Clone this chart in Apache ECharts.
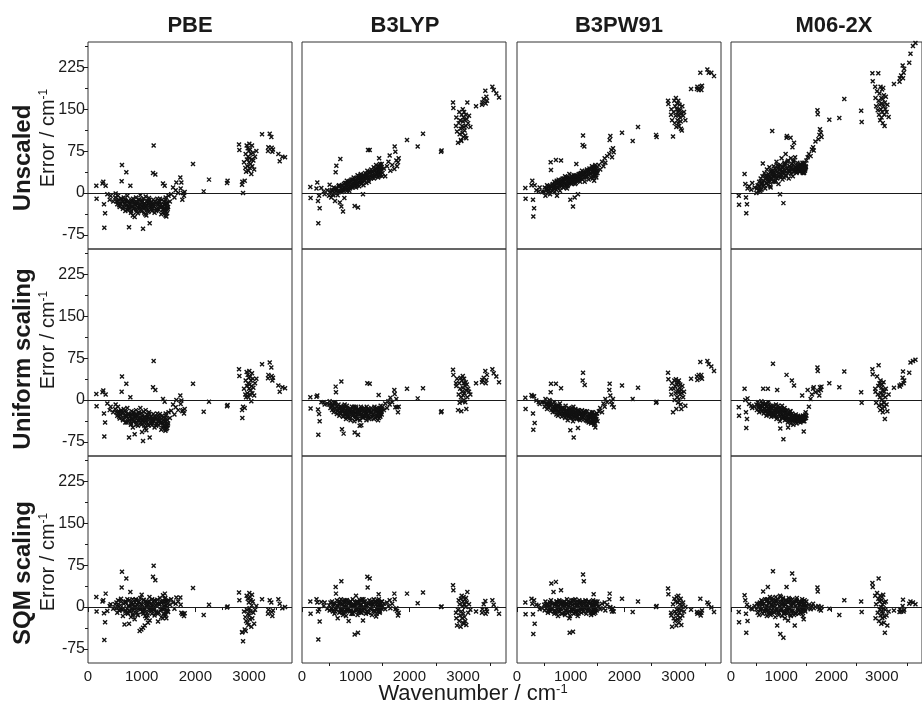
<!DOCTYPE html>
<html>
<head>
<meta charset="utf-8">
<script src="https://cdn.jsdelivr.net/npm/echarts@6/dist/echarts.min.js"></script>
<style>
html, body { margin: 0; padding: 0; background: #fff; }
#main { width: 922px; height: 706px; }
</style>
</head>
<body>
<div id="main"></div>
<script>
// experimental wavenumbers (cm-1), same for every panel
var wavenumbers = [
  155, 160, 270, 285, 298, 304, 318, 329, 360, 404, 422, 470,
  505, 515, 530, 545, 560, 575, 590, 605, 615, 627,
  633, 640, 650, 665, 680, 695, 705, 714, 725, 733,
  745, 755, 764, 775, 789, 800, 810, 820, 835, 850,
  869, 880, 895, 905, 919, 930, 945, 962, 975, 981,
  994, 1006, 1015, 1025, 1035, 1043, 1056, 1065, 1074, 1087,
  1095, 1105, 1118, 1130, 1136, 1149, 1160, 1175, 1190, 1200,
  1211, 1217, 1223, 1230, 1240, 1254, 1261, 1275, 1290, 1304,
  1320, 1335, 1350, 1365, 1380, 1397, 1405, 1416, 1428, 1437,
  1447, 1459, 1470, 1485, 1500, 1525, 1550, 1584, 1610, 1633,
  1646, 1680, 1720, 1726, 1739, 1757, 1770, 1788, 1801,
  612, 690, 740, 795, 845, 890, 940, 985, 1000, 1030,
  1050, 1080, 1112, 1145, 1185, 1205, 1245, 1268, 1310, 1340,
  1372, 1390, 1410, 1422, 1432, 1442, 1453, 1465, 1478, 1492,
  1956, 2155, 2254, 2590, 2600, 2813, 2820, 2869,
  2875, 2888, 2906, 2919, 2930, 2937, 2945, 2955, 2960, 2968,
  2975, 2982, 2990, 2995, 3000, 3005, 3010, 3015, 3020, 3028,
  3035, 3042, 3050, 3055, 3061, 3070, 3080, 3095, 3111, 3136,
  3242, 3353, 3360, 3385, 3415, 3422, 3434, 3446, 3546, 3571, 3620, 3670,
  550, 580, 620, 660, 700, 720, 750, 770, 780, 805,
  815, 830, 840, 860, 875, 900, 915, 925, 950, 968,
  990, 1010, 1040, 1060, 1090, 1100, 1125, 1155, 1170, 1195,
  1235, 1280, 1300, 1330, 1360, 1400, 1425, 1440, 1450, 1475
];

// errors (cm-1), one array per panel, in the order of wavenumbers
var pbeUnscaled = [
  13, -10, 17, 20, -20, -62, -36, 13, -2, -12, -5, -15,
  -8, -1, -14, -20, -5, -12, -25, -18, -10, 21,
  50, -15, -28, -8, -20, -32, -14, 37, -22, -5,
  -30, -18, -61, -26, 13, -35, -12, -24, -40, -16,
  -43, -22, -8, -30, -19, -36, -12, -27, -4, -20,
  -33, -15, -25, -64, -10, -28, -18, -38, -6, -40,
  -22, -14, -30, -20, -9, -54, -26, -16, -32, -20,
  36, -12, 85, -24, -35, 33, -18, -28, -10, -22,
  -30, -15, -25, -38, -12, 17, -30, -20, 13, -35,
  -8, -42, -18, -28, -5, -15, -2, 10, -8, 5,
  19, 0, 28, 8, 19, -12, 0, -5, 2,
  -20, -12, -25, -18, -28, -15, -22, -30, -12, -20,
  -35, -25, -18, -12, -28, -22, -15, -32, -20, -10,
  -25, -35, -15, -28, -22, -40, -12, -30, -20, -25,
  52, 3, 24, 18, 22, 87, 77, 15,
  20, 0, 55, 22, 45, 70, 38, 85, 60, 48,
  80, 65, 40, 75, 55, 88, 62, 45, 78, 52,
  70, 34, 60, 85, 48, 72, 58, 42, 65, 75,
  105, 75, 82, 106, 100, 81, 74, 78, 70, 57, 65, 64,
  -15, -22, -10, -25, -18, -30, -14, -26, -20, -32,
  -16, -24, -10, -28, -20, -34, -18, -26, -12, -22,
  -30, -16, -24, -20, -28, -14, -34, -22, -18, -26,
  -20, -30, -16, -24, -20, -28, -32, -18, -24, -36
];
var b3lypUnscaled = [
  11, -9, 8, 19, -14, -54, -5, -27, 9, 3, -2, 5,
  -5, 15, 2, -8, 6, -2, 10, 0, -14, 37,
  4, 49, 8, -4, 12, 2, -17, 61, 8, -24,
  14, 4, -33, 10, -9, 18, 6, 14, 22, 8,
  16, 4, 20, 12, 24, 10, 18, 28, 14, -23,
  22, 10, 26, 18, 32, -26, 20, 12, 28, 22,
  34, 16, 26, 20, -2, 30, 22, 36, 26, 18,
  32, 40, 28, 77, 24, 36, 77, 30, 42, 28,
  38, 46, 30, 40, 50, 34, 44, 28, 38, 62,
  48, 32, 42, 52, 36, 44, 30, 48, 56, 67,
  40, 50, 43, 83, 74, 58, 48, 55, 62,
  6, 14, 2, 10, 16, 8, 24, 12, 20, 14,
  26, 18, 30, 14, 28, 34, 20, 38, 32, 26,
  44, 36, 30, 48, 40, 34, 52, 38, 44, 30,
  95, 83, 106, 74, 76, 162, 152, 120,
  135, 110, 90, 125, 145, 105, 130, 115, 95, 93,
  140, 120, 108, 150, 128, 100, 135, 118, 145, 112,
  130, 103, 140, 120, 98, 132, 162, 125, 138, 118,
  155, 158, 162, 168, 183, 160, 172, 165, 190, 184, 178, 171,
  4, -4, 8, 2, 12, 4, 14, 6, 16, 8,
  18, 10, 4, 16, 20, 10, 22, 14, 24, 16,
  12, 22, 16, 28, 20, 30, 24, 32, 22, 28,
  34, 26, 38, 32, 40, 36, 44, 32, 40, 46
];
var b3pw91Unscaled = [
  9, -10, 14, 22, -12, -42, -27, 14, 5, 3, 10, 2,
  2, 10, -5, 8, 14, 0, 6, 12, -2, 55,
  41, 10, 4, 16, 8, 20, 2, 14, 59, 6,
  -5, 18, 10, 24, 12, 4, 20, 58, 14, 26,
  10, 20, 30, 14, 24, 8, 28, 18, 34, 22,
  -12, 26, 16, 30, 20, -24, 32, 22, -8, 28,
  18, 52, 30, 22, -2, 34, 26, 20, 36, 28,
  40, 24, 86, 103, 32, 83, 20, 38, 28, 42,
  34, 24, 44, 36, 28, 48, 38, 30, 46, 22,
  40, 50, 32, 44, 36, 50, 42, 56, 48, 62,
  54, 66, 70, 95, 102, 77, 64, 80, 73,
  8, 14, 22, 16, 20, 24, 12, 26, 18, 22,
  28, 16, 24, 30, 26, 34, 28, 36, 30, 40,
  34, 44, 26, 38, 42, 32, 46, 36, 28, 40,
  108, 93, 118, 104, 100, 165, 159, 140,
  150, 130, 101, 145, 165, 125, 155, 138, 170, 118,
  150, 160, 130, 145, 125, 165, 140, 150, 120, 158,
  135, 148, 128, 115, 142, 112, 155, 138, 145, 130,
  186, 186, 190, 184, 215, 190, 184, 192, 221, 215, 215, 209,
  6, 12, 2, 14, 8, 18, 10, 20, 12, 22,
  14, 24, 16, 10, 26, 18, 28, 20, 14, 26,
  22, 30, 18, 26, 32, 22, 30, 24, 34, 28,
  36, 30, 40, 34, 42, 38, 46, 32, 42, 36
];
var m062xUnscaled = [
  -5, -21, 34, 16, -8, -36, -20, 8, 12, 6, 18, 10,
  0, 8, 14, 4, 20, 10, 26, 6, 16, 30,
  53, 12, 22, 36, 8, 28, 18, 42, 24, 14,
  34, 20, 46, 28, 10, 38, 24, 111, 30, 48,
  20, 40, 32, 56, 26, 44, 16, 36, -2, 50,
  28, 62, 38, 24, 46, -18, 34, 54, 40, 70,
  30, 99, 44, 36, 58, 26, 48, 40, 62, 34,
  52, 42, 82, 30, 56, 90, 38, 64, 46, 36,
  54, 42, 48, 38, 52, 44, 40, 50, 36, 46,
  42, 54, 40, 48, 58, 64, 70, 66, 78, 82,
  76, 92, 148, 141, 96, 104, 114, 108, 100,
  18, 32, 26, 40, 34, 22, 48, 30, 42, 36,
  28, 50, 102, 40, 99, 46, 58, 40, 48, 44,
  38, 50, 42, 54, 40, 48, 36, 52, 44, 46,
  131, 134, 168, 147, 127, 214, 200, 190,
  170, 155, 182, 148, 214, 165, 140, 178, 158, 130,
  190, 150, 170, 135, 160, 185, 145, 168, 125, 188,
  155, 175, 140, 120, 162, 150, 172, 145, 158, 136,
  195, 199, 205, 210, 228, 205, 215, 222, 233, 249, 263, 268,
  12, 4, 20, 14, 26, 18, 30, 22, 12, 34,
  26, 40, 20, 32, 44, 28, 38, 50, 30, 42,
  34, 46, 38, 52, 32, 44, 56, 38, 48, 42,
  50, 44, 38, 48, 42, 46, 40, 44, 38, 42
];

var pbeUniform = [
  11, -11, 14, 17, -24, -65, -40, 10, -6, -18, -12, -22,
  -16, -8, -22, -28, -12, -20, -33, -26, -18, 15,
  42, -23, -36, -16, -28, -40, -22, 29, -30, -14,
  -38, -26, -67, -35, 5, -44, -20, -33, -49, -25,
  -61, -31, -18, -40, -29, -46, -22, -37, -14, -31,
  -44, -57, -36, -73, -21, -40, -30, -50, -18, -54,
  -34, -26, -43, -33, -22, -67, -39, -29, -45, -33,
  23, -25, 70, -38, -49, 18, -32, -42, -24, -37,
  -45, -30, -40, -53, -28, 2, -46, -36, -3, -51,
  -24, -52, -35, -45, -22, -32, -19, -8, -26, -13,
  0, -18, 8, -7, -1, -20, -18, -24, -16,
  -27, -20, -33, -27, -38, -25, -32, -41, -23, -31,
  -46, -37, -30, -25, -41, -35, -29, -46, -34, -25,
  -40, -50, -31, -44, -38, -55, -28, -46, -36, -42,
  29, -21, -3, -11, -9, 55, 43, -18,
  -32, -12, 20, -14, 10, 35, 5, 50, 25, 12,
  45, 30, 5, 40, 20, 52, 28, 10, 42, 18,
  35, -2, 25, 48, 12, 38, 22, 8, 30, 38,
  64, 39, 45, 67, 58, 43, 35, 40, 26, 15, 23, 21,
  -24, -30, -20, -34, -28, -40, -24, -36, -30, -42,
  -26, -34, -22, -38, -30, -44, -28, -36, -24, -34,
  -40, -28, -36, -32, -40, -26, -46, -34, -30, -38,
  -33, -43, -29, -38, -34, -42, -46, -32, -38, -50
];
var b3lypUniform = [
  5, -15, 6, 8, -17, -62, -25, -38, -4, -4, -8, -6,
  -8, -2, -14, -5, -18, -10, -22, -6, -15, 24,
  14, -12, -25, -18, -8, -28, -16, -22, -12, 33,
  -52, -20, -30, -60, -14, -24, -18, -34, -10, -26,
  -20, -30, -16, -36, -22, -12, -28, -18, -38, -58,
  -24, -14, -30, -20, -34, -62, -16, -26, -46, -22,
  -12, -45, -28, -18, -32, -22, -14, -30, -20, -36,
  -24, 30, -16, -28, -20, -34, 29, -22, -14, -30,
  -18, -26, -12, -32, -20, -28, -16, -36, 9, -24,
  -14, -30, -20, -26, -12, -18, -6, -14, -2, -8,
  4, -4, 18, 11, -13, 2, -13, -22, -12,
  -4, -14, -20, -8, -28, -18, -24, -32, -12, -26,
  -20, -36, -16, -28, -24, -12, -30, -18, -26, -34,
  -20, -14, -28, -22, -32, -18, -26, -10, -22, -16,
  20, 3, 21, -22, -20, 54, 45, 30,
  25, 38, -18, 10, 30, -5, 20, 40, 5, -20,
  35, 15, -2, 43, 22, 8, 30, 0, 38, 12,
  25, -4, 32, 18, -16, 28, 5, 20, 15, 10,
  30, 32, 36, 40, 52, 30, 36, 45, 55, 48, 42, 32,
  -10, -16, -6, -20, -12, -24, -16, -28, -10, -22,
  -18, -30, -14, -24, -20, -32, -16, -26, -22, -12,
  -28, -18, -34, -22, -26, -16, -30, -20, -24, -28,
  -18, -32, -22, -26, -16, -30, -24, -20, -28, -18
];
var b3pw91Uniform = [
  4, -16, 9, 7, -24, -53, 7, -41, -1, -4, -7, -4,
  -4, -12, 2, -8, -16, -6, -14, 0, -10, 14,
  29, -18, -8, -22, -12, -4, -20, -14, 29, -26,
  -10, -18, -28, -12, -22, -6, -16, 21, -30, -14,
  -24, -18, -32, -10, -26, -20, -36, -14, -28, -18,
  -54, -22, -32, -14, -26, -38, -67, -20, -30, -16,
  -28, -22, -34, -18, -50, -26, -20, -36, -24, -30,
  -18, -28, 35, 49, -22, -34, 27, -26, -36, -20,
  -30, -40, -24, -32, -42, -26, -36, -22, -30, -44,
  -28, -49, -34, -24, -38, -20, -14, -22, -6, -12,
  2, -4, 18, 29, 8, -2, -8, 2, -13,
  -6, -16, -10, -24, -14, -20, -28, -16, -30, -22,
  -12, -26, -32, -18, -24, -34, -28, -20, -38, -26,
  -32, -22, -40, -30, -36, -26, -42, -30, -34, -24,
  26, 2, 22, -5, -3, 49, 37, 20,
  10, 30, -22, 20, 35, 0, 25, 12, 37, -16,
  28, 5, 32, 18, -5, 30, 15, 35, 2, 22,
  10, 28, -8, 18, -16, 12, 25, 5, 15, -10,
  38, 42, 36, 45, 68, 40, 45, 38, 70, 64, 60, 52,
  -6, -10, -2, -14, -8, -18, -12, -22, -10, -16,
  -24, -14, -20, -26, -16, -22, -28, -18, -24, -30,
  -20, -26, -16, -32, -24, -28, -20, -34, -26, -30,
  -24, -36, -28, -32, -38, -30, -34, -40, -28, -36
];
var m062xUniform = [
  -13, -28, 20, 0, -22, -50, -34, 3, -7, -10, -14, -12,
  -8, -18, -4, -14, -22, -10, -16, -2, -20, -12,
  -6, 20, -24, -14, -8, -20, -28, -12, -18, 20,
  -4, -26, -14, -22, -10, -30, -16, -24, 65, -12,
  -28, -20, -8, -34, 18, -22, -14, -30, -38, -51,
  -18, -26, -10, -32, -20, -70, -28, -14, -36, -22,
  -30, 45, -18, -40, -49, -26, -34, -20, -42, -28,
  35, -24, -36, -30, -44, 26, -32, -38, -26, -42,
  -34, -28, -38, -32, -40, -30, -36, 8, -34, -28,
  -56, -38, -32, -22, -28, 18, -12, 2, 10, 20,
  23, 14, 58, 52, 16, 8, 23, 18, 24,
  -12, -6, -20, -14, -26, -18, -10, -24, -16, -30,
  -22, -18, -34, -26, -20, -36, -28, -34, -30, -38,
  -34, -30, -36, -32, -28, -38, -34, -30, -26, -32,
  30, 23, 51, 14, -5, 55, 46, 20,
  15, -5, 42, 10, 25, 62, -10, 30, 5, -18,
  35, 12, -8, 22, 0, 28, -15, 18, -22, 8,
  32, -5, 15, -12, -34, 5, 20, -8, -20, 10,
  22, 26, 24, 28, 40, 51, 30, 35, 49, 67, 70, 72,
  -10, -16, -6, -20, -12, -24, -8, -18, -26, -14,
  -22, -10, -28, -18, -24, -14, -30, -20, -26, -16,
  -22, -32, -18, -28, -24, -34, -30, -22, -36, -28,
  -32, -36, -30, -34, -38, -32, -36, -30, -34, -32
];

var pbeSqm = [
  18, -8, 10, 12, -11, -59, -27, 24, -7, 2, 5, -3,
  5, -2, 8, -10, 12, 0, -6, 3, 15, 35,
  63, -5, -16, 6, -31, -8, 10, 51, -3, 14,
  -12, 2, -30, -6, 27, -18, 8, -2, -15, 5,
  -22, 0, 12, -10, 3, -14, 9, -43, 16, -4,
  -40, 4, -9, -37, 13, -6, -33, -16, 10, -20,
  2, 8, -28, -4, 11, -24, -2, 6, -12, 1,
  54, 9, 74, -5, -15, 48, 3, -8, 13, -26,
  -10, 5, -5, -18, 8, 21, -12, 2, 15, -16,
  10, -20, 0, -8, 12, 4, 14, 8, -3, 6,
  17, 10, 17, 4, -10, -13, -12, -16, -11,
  -4, 8, -10, 2, -6, 14, -3, 5, 22, -12,
  -1, 7, -15, 18, -7, 4, 12, -10, 6, 16,
  -4, -20, 9, -2, 24, -13, 3, -6, 11, -9,
  34, -14, 4, -1, 1, 26, 12, -45,
  -45, -61, -8, -40, -18, -43, -25, 20, -5, -28,
  15, -12, -32, 8, -15, 25, -2, -22, 18, -8,
  12, -35, 3, 22, -20, 10, -10, -30, -5, 2,
  14, -12, -5, 12, 8, -9, -16, -6, 14, 6, -2, 0,
  4, -6, 10, -2, 8, -10, 2, 12, -8, 6,
  -4, 14, -12, 0, 8, -6, 4, -14, 10, -2,
  6, -8, 12, -4, 2, -10, 8, 0, -6, 14,
  -2, 6, -12, 4, 10, -4, 0, 16, -8, 6
];
var b3lypSqm = [
  10, -12, 14, 8, -8, -58, -4, -26, 9, 2, 8, -3,
  3, -6, 8, -2, 10, -8, 4, -12, 6, 36,
  24, -4, 12, -20, 2, -10, 8, -4, 14, 46,
  -6, 6, -14, 0, 10, -8, 4, -16, 12, -2,
  -25, 6, -6, 10, -12, 2, 14, -8, 4, -49,
  8, 20, -4, 10, -14, -46, 6, -8, 12, -2,
  -10, 4, 14, -6, -24, 8, -4, 10, -12, 2,
  -8, 54, 35, 6, -10, 12, 51, -4, 8, -14,
  4, 14, -6, 8, -17, 2, 12, -8, 23, 4,
  -10, 8, -2, 10, 0, 6, -4, 8, 2, 12,
  -2, 6, 24, 14, -4, -2, -7, -15, -10,
  -2, 6, -8, 12, -4, 8, -12, 2, -6, 10,
  -2, 4, -10, 14, 0, -8, 6, -2, 10, -6,
  4, -12, 8, -4, 14, 0, -8, 6, -2, 10,
  24, 7, 26, 0, 1, 39, 30, -10,
  -20, -33, -5, 12, -25, 5, -15, -35, 15, -8,
  20, -20, 2, -28, 10, -12, 18, -30, 5, -18,
  14, -25, 0, 16, -32, 8, 27, -10, 5, -5,
  -8, -10, -4, 5, 11, -12, -4, -8, 12, 4, -3, -12,
  -4, 6, -8, 2, 10, -6, 4, -10, 8, 0,
  -4, 12, -8, 6, -2, 10, -6, 4, -12, 2,
  8, -4, 6, -8, 12, 0, -6, 10, -2, 4,
  -10, 6, 2, -8, 10, -4, 4, -6, 8, 0
];
var b3pw91Sqm = [
  8, -13, 15, 6, -13, -48, 12, -30, 4, 3, -4, -2,
  4, -6, 10, -2, 6, -10, 2, -4, 8, -8,
  12, 42, -2, 6, 27, -12, 4, -6, 45, 10,
  -4, 8, -16, 2, 12, -8, 6, 30, -12, 4,
  -2, 10, -14, 6, -6, 14, -10, 2, -20, -46,
  8, -4, 12, -8, 4, -44, -12, 6, -2, 14,
  -8, 2, 10, -16, 4, -6, 12, -2, 8, -10,
  2, -4, 10, 58, -8, 6, -2, 12, -12, 4,
  -6, 10, -2, 8, -14, 2, -8, 12, 23, -4,
  6, -10, 4, -6, 10, 2, -4, 6, -2, 8,
  -6, 4, 14, 24, 0, -4, -8, -2, -8,
  2, -8, 10, -4, 8, -10, 4, -16, 6, -2,
  12, -8, 4, -12, 8, -4, 46, 2, -6, 10,
  -10, 4, -4, 8, -12, 2, -6, 10, -2, 6,
  15, -9, 10, 0, 2, 33, 23, -10,
  -15, -35, 5, -20, 15, -8, -25, 10, -12, -33,
  18, -5, -22, 8, -15, 20, -2, -28, 12, -10,
  5, -20, 15, -5, -32, 2, -15, 8, -8, 0,
  -5, -9, -12, -10, 15, -15, -10, -6, 8, 5, -1, -9,
  2, -6, 8, -2, 6, -10, 4, 0, -8, 10,
  -4, 6, -12, 2, 8, -6, 4, -2, 10, -8,
  0, 6, -4, 12, -10, 2, -6, 8, -2, 4,
  -8, 10, 0, -4, 6, -10, 2, 8, -6, 4
];
var m062xSqm = [
  -9, -27, 21, 12, -12, -46, 4, -25, 0, -2, -4, 2,
  -4, 6, -10, 2, -14, 8, -6, 12, -2, 4,
  -12, 28, 6, -8, 14, -4, 10, -16, 2, 36,
  -10, 8, -2, 18, -14, 4, -6, 12, 64, -8,
  6, -18, 10, -4, -33, 14, -10, 2, 20, -48,
  -6, 10, -16, 4, 16, -55, -8, 6, -20, 12,
  -2, 36, -12, 8, -24, 16, -4, 10, -16, 4,
  -8, 60, 14, -6, 8, -14, 49, 2, -10, 12,
  -4, 6, -12, 10, -2, 8, -8, 14, -4, 4,
  -22, 6, -6, 2, 10, -2, 4, -4, 2, 6,
  -2, 0, 35, 28, 2, -4, -2, -6, 0,
  6, -6, 12, -10, 2, 18, -8, 8, -2, 14,
  -12, 4, -6, 10, -14, 2, 8, -33, 16, -6,
  4, -10, 10, 0, -16, 6, -4, 12, -8, 2,
  -3, -14, 12, 10, -9, 43, 36, 20,
  -20, 5, 25, -10, 15, 51, -25, 10, -5, 20,
  -15, 0, -30, 12, -8, 18, -20, 5, -12, 22,
  -2, -28, 8, -18, -46, -5, 10, -15, -33, -8,
  -6, -9, -4, -8, 2, 13, -8, -5, 6, 10, 8, 5,
  6, -4, 10, -8, 2, 14, -6, 8, -12, 4,
  16, -2, 10, -10, 0, 12, -6, 6, -14, 2,
  18, -4, 8, -10, 4, 12, -8, 0, 14, -6,
  6, -12, 10, -2, 4, -8, 8, 0, -4, 6
];

var methods = ['PBE', 'B3LYP', 'B3PW91', 'M06-2X'];
var rowNames = ['Unscaled', 'Uniform scaling', 'SQM scaling'];
var yTicks = [-75, 0, 75, 150, 225];
var yMinorTicks = [-37.5, 37.5, 112.5, 187.5, 262.5];
var xTicks = [0, 1000, 2000, 3000];
var xMinorTicks = [500, 1500, 2500, 3500];

var panels = [
  [pbeUnscaled, b3lypUnscaled, b3pw91Unscaled, m062xUnscaled],
  [pbeUniform, b3lypUniform, b3pw91Uniform, m062xUniform],
  [pbeSqm, b3lypSqm, b3pw91Sqm, m062xSqm]
];

panels.forEach(function (row, r) {
  row.forEach(function (arr, c) {
    if (arr.length !== wavenumbers.length) {
      throw new Error('length mismatch row ' + r + ' col ' + c + ': ' + arr.length + ' vs ' + wavenumbers.length);
    }
  });
});

var FONT = '"Liberation Sans", Arial, Helvetica, sans-serif';
var INK = '#1a1a1a';
var colLeft = [88, 302, 517, 731];
var rowTop = [42, 249, 456];
var panelW = 204, panelH = 207;

var grids = [], xAxes = [], yAxes = [], series = [];
var minorX = [], minorY = [];

for (var r = 0; r < 3; r++) {
  for (var c = 0; c < 4; c++) {
    var g = r * 4 + c;
    grids.push({
      left: colLeft[c], top: rowTop[r], width: panelW, height: panelH,
      show: true, borderColor: '#333', borderWidth: 1, backgroundColor: 'transparent'
    });
    xAxes.push({
      gridIndex: g, type: 'value', min: 0, max: 3800, position: 'bottom',
      axisLine: {show: false}, splitLine: {show: false},
      axisTick: {show: r === 2, customValues: xTicks, length: 5, lineStyle: {color: INK}},
      axisLabel: {
        show: r === 2, customValues: xTicks, fontSize: 15, color: INK, fontFamily: FONT, margin: 6,
        formatter: function (v) { return String(v); }
      }
    });
    yAxes.push({
      gridIndex: g, type: 'value', min: -100, max: 270, position: 'left',
      axisLine: {show: false}, splitLine: {show: false},
      axisTick: {show: c === 0, customValues: yTicks, length: 5, lineStyle: {color: INK}},
      axisLabel: {show: c === 0, customValues: yTicks, fontSize: 16, color: INK, fontFamily: FONT, margin: 3}
    });
    if (r === 2) {
      minorX.push({
        gridIndex: g, type: 'value', min: 0, max: 3800, position: 'bottom',
        axisLine: {show: false}, splitLine: {show: false}, axisLabel: {show: false},
        axisTick: {show: true, customValues: xMinorTicks, length: 3, lineStyle: {color: INK}}
      });
    }
    if (c === 0) {
      minorY.push({
        gridIndex: g, type: 'value', min: -100, max: 270, position: 'left',
        axisLine: {show: false}, splitLine: {show: false}, axisLabel: {show: false},
        axisTick: {show: true, customValues: yMinorTicks, length: 3, lineStyle: {color: INK}}
      });
    }
    var errs = panels[r][c];
    series.push({
      type: 'scatter', xAxisIndex: g, yAxisIndex: g,
      data: wavenumbers.map(function (w, i) { return [w, errs[i]]; }),
      symbol: 'path://M0,0L10,10M10,0L0,10',
      symbolSize: 4,
      itemStyle: {color: 'rgba(0,0,0,0)', borderColor: '#111', borderWidth: 1.4, opacity: 1},
      silent: true,
      markLine: {
        silent: true, symbol: ['none', 'none'], label: {show: false},
        lineStyle: {color: INK, width: 1, type: 'solid'},
        data: [{yAxis: 0}]
      }
    });
  }
}

var graphics = [];
var titleX = [190, 405, 619, 834];
methods.forEach(function (m, c) {
  graphics.push({
    type: 'text', x: titleX[c], y: 26,
    style: {text: m, fontSize: 22, fontWeight: 'bold', fontFamily: FONT, fill: INK, align: 'center', verticalAlign: 'middle'}
  });
});
var rowLabelY = [158, 359, 573];
var errLabelY = [138, 340, 562];
rowNames.forEach(function (name, r) {
  graphics.push({
    type: 'text', x: 23, y: rowLabelY[r], rotation: Math.PI / 2,
    style: {text: name, fontSize: 24, fontWeight: 'bold', fontFamily: FONT, fill: INK, align: 'center', verticalAlign: 'middle'}
  });
  graphics.push({
    type: 'text', x: 48, y: errLabelY[r], rotation: Math.PI / 2,
    style: {
      text: 'Error / cm{sup|-1}', fontSize: 20, fontFamily: FONT, fill: INK, align: 'center', verticalAlign: 'middle',
      rich: {sup: {fontSize: 12, fontFamily: FONT, fill: INK, verticalAlign: 'top'}}
    }
  });
});
graphics.push({
  type: 'text', x: 473, y: 694,
  style: {
    text: 'Wavenumber / cm{sup|-1}', fontSize: 22, fontFamily: FONT, fill: INK, align: 'center', verticalAlign: 'middle',
    rich: {sup: {fontSize: 13, fontFamily: FONT, fill: INK, verticalAlign: 'top'}}
  }
});

var chart = echarts.init(document.getElementById('main'));
chart.setOption({
  animation: false,
  backgroundColor: '#fff',
  grid: grids,
  xAxis: xAxes.concat(minorX),
  yAxis: yAxes.concat(minorY),
  series: series,
  graphic: graphics
});
</script>
</body>
</html>
